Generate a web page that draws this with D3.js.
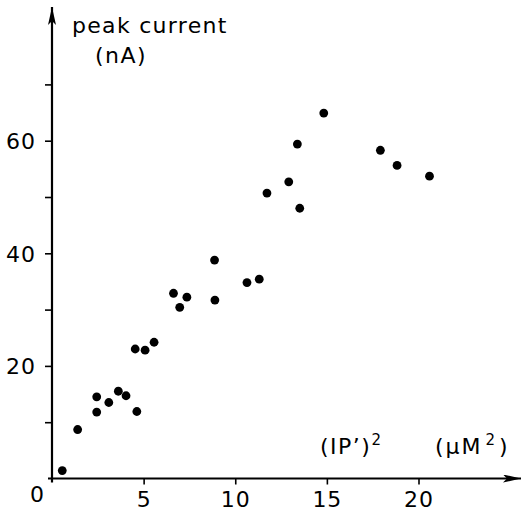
<!DOCTYPE html>
<html>
<head>
<meta charset="utf-8">
<script src="https://cdn.jsdelivr.net/npm/d3@7"></script>
<style>
  body { margin: 0; background: #fff; }
  svg text { font-family: "DejaVu Sans", sans-serif; fill: #000; }
</style>
</head>
<body>
<div id="chart"></div>
<script>
// (IP')^2 in uM^2 vs peak current in nA
var ipSquared = [0.56, 1.4, 2.44, 2.44, 3.1, 3.62, 4.04, 4.63, 4.54, 5.08, 5.57, 6.63, 6.97,
                 7.36, 8.87, 8.89, 10.64, 11.31, 11.73, 12.92, 13.52, 13.39, 14.83, 17.92, 18.83, 20.6];
var peakCurrent = [1.4, 8.7, 14.5, 11.8, 13.5, 15.5, 14.7, 11.9, 23.0, 22.8, 24.2, 32.9, 30.4,
                   32.2, 38.8, 31.7, 34.8, 35.4, 50.7, 52.7, 48.0, 59.4, 64.9, 58.3, 55.6, 53.7];
var xTicks = [5, 10, 15, 20];
var yTicks = [10, 20, 30, 40, 50, 60, 70];
var yLabelled = [20, 40, 60];

var w = 522, h = 513;

var svg = d3.select('#chart').append('svg')
  .attr('width', w)
  .attr('height', h);

var x = d3.scaleLinear().domain([0, 20]).range([52, 418.5]);
var y = d3.scaleLinear().domain([0, 60]).range([478.5, 140.7]);

var defs = svg.append('defs');
defs.append('marker')
  .attr('id', 'arrow')
  .attr('viewBox', '0 0 18 8')
  .attr('refX', 18).attr('refY', 4)
  .attr('markerWidth', 18).attr('markerHeight', 8)
  .attr('markerUnits', 'userSpaceOnUse')
  .attr('orient', 'auto')
  .append('path')
  .attr('d', 'M0,0 L18,4 L0,8 L4,4 Z')
  .attr('fill', '#000');

// y axis
var yAxis = d3.axisLeft(y)
  .tickValues(yTicks)
  .tickSize(7)
  .tickPadding(9)
  .tickFormat(function(d) { return yLabelled.indexOf(d) >= 0 ? d : ''; });

var gy = svg.append('g')
  .attr('transform', 'translate(' + x(0) + ',0)')
  .call(yAxis);
gy.select('.domain').remove();
gy.selectAll('line').attr('stroke', '#000').attr('stroke-width', 1.6);
gy.selectAll('text').style('font-size', '22px').style('letter-spacing', '1px').attr('dy', '0.36em');

// x axis
var xAxis = d3.axisBottom(x)
  .tickValues(xTicks)
  .tickSize(6)
  .tickPadding(8)
  .tickFormat(function(d) { return d; });

var gx = svg.append('g')
  .attr('transform', 'translate(0,' + y(0) + ')')
  .call(xAxis);
gx.select('.domain').remove();
gx.selectAll('line').attr('stroke', '#000').attr('stroke-width', 1.6);
gx.selectAll('text').style('font-size', '22px').style('letter-spacing', '1px').attr('dy', '0.66em');

// axis lines with arrows
svg.append('line')
  .attr('x1', x(0)).attr('y1', y(0) + 4)
  .attr('x2', x(0)).attr('y2', 7)
  .attr('stroke', '#000').attr('stroke-width', 2.2)
  .attr('marker-end', 'url(#arrow)');

svg.append('line')
  .attr('x1', x(0) - 4).attr('y1', y(0))
  .attr('x2', 521).attr('y2', y(0))
  .attr('stroke', '#000').attr('stroke-width', 2.2)
  .attr('marker-end', 'url(#arrow)');

// origin label
svg.append('text')
  .attr('x', 37).attr('y', 502)
  .attr('text-anchor', 'middle')
  .style('font-size', '22px')
  .text('0');

// points
svg.append('g').selectAll('circle')
  .data(ipSquared.map(function(d, i) { return [d, peakCurrent[i]]; }))
  .enter().append('circle')
  .attr('cx', function(d) { return x(d[0]); })
  .attr('cy', function(d) { return y(d[1]); })
  .attr('r', 4.4)
  .attr('fill', '#000');

// axis titles
svg.append('text').attr('x', 72).attr('y', 33)
  .style('font-size', '22px').style('letter-spacing', '1.3px')
  .text('peak current');
svg.append('text').attr('x', 95).attr('y', 63)
  .style('font-size', '22px').style('letter-spacing', '1.5px')
  .text('(nA)');

var t1 = svg.append('text').attr('x', 320).attr('y', 454)
  .style('font-size', '22px').style('letter-spacing', '1.5px');
t1.append('tspan').text('(IP\u2019)');
t1.append('tspan').attr('dy', -9).style('font-size', '15px').text('2');

var t2 = svg.append('text').attr('x', 435).attr('y', 454)
  .style('font-size', '22px').style('letter-spacing', '2px');
t2.append('tspan').text('(\u00b5M');
t2.append('tspan').attr('dx', 3).attr('dy', -9).style('font-size', '15px').text('2');
t2.append('tspan').attr('dx', 2).attr('dy', 9).text(')');
</script>
</body>
</html>
